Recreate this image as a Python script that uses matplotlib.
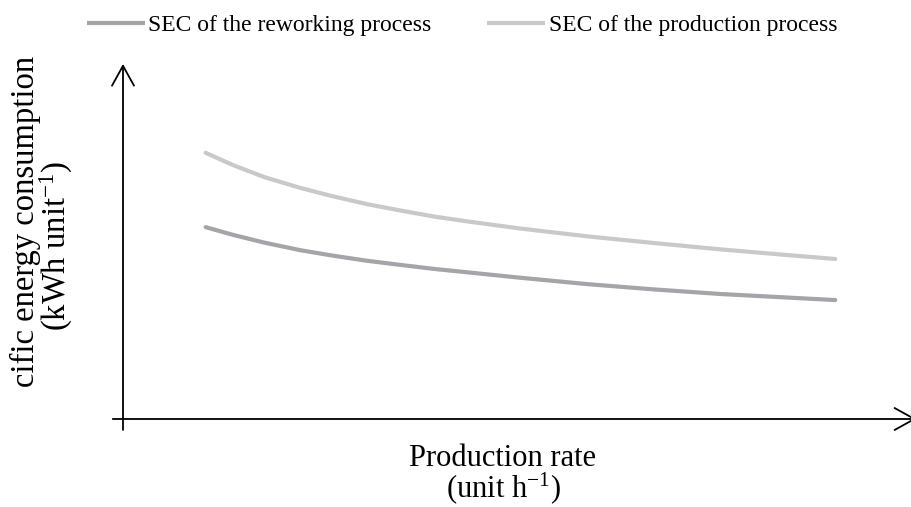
import matplotlib
matplotlib.use("Agg")
import matplotlib.pyplot as plt
from matplotlib.lines import Line2D
from matplotlib.transforms import Bbox

plt.rcParams["font.family"] = ["Liberation Serif", "DejaVu Serif"]
plt.rcParams["mathtext.fontset"] = "custom"
plt.rcParams["mathtext.rm"] = "Liberation Serif"
plt.rcParams["mathtext.it"] = "Liberation Serif:italic"

# Production rate (arbitrary units along the schematic axis)
production_rate = [1.05, 1.4, 1.8, 2.25, 2.65, 3.1, 3.5, 3.95, 4.35,
                   5.05, 5.9, 6.75, 7.6, 8.45, 9.05]
# Specific energy consumption of each process (arbitrary units)
sec_production = [7.52, 7.17, 6.83, 6.53, 6.30, 6.07, 5.90, 5.72, 5.59,
                  5.38, 5.16, 4.97, 4.79, 4.63, 4.52]
sec_reworking = [5.42, 5.20, 4.98, 4.77, 4.62, 4.47, 4.36, 4.24, 4.15,
                 3.99, 3.81, 3.66, 3.53, 3.43, 3.36]

series_labels = ["SEC of the reworking process", "SEC of the production process"]
series_colors = ["#a4a4a9", "#c9c9cb"]

W, H = 911, 507
fig = plt.figure(figsize=(W / 100, H / 100), dpi=100)

# axes placed so that the origin sits where the two arrows cross
ux, uy = 78.7, 35.4          # pixels per data unit
x0, y0 = 123, 419            # origin in pixels (from top-left)
xmin, xmax, ymin, ymax = -0.5, 10.5, -0.5, 10.5
left = (x0 + xmin * ux) / W
bottom = (H - (y0 - ymin * uy)) / H
ax = fig.add_axes([left, bottom, (xmax - xmin) * ux / W, (ymax - ymin) * uy / H])
ax.set_xlim(xmin, xmax)
ax.set_ylim(ymin, ymax)
ax.axis("off")

# axis arrows
arrow_kw = dict(arrowstyle="->,head_length=0.65,head_width=0.36",
                color="black", lw=1.3, shrinkA=0, shrinkB=0, mutation_scale=22)
ax.annotate("", xy=(10.08, 0), xytext=(-0.13, 0),
            arrowprops=arrow_kw, annotation_clip=False)
ax.annotate("", xy=(0, 10.03), xytext=(0, -0.31),
            arrowprops=arrow_kw, annotation_clip=False)

ax.plot(production_rate, sec_reworking, color=series_colors[0], lw=3.0,
        solid_capstyle="round", label=series_labels[0])
ax.plot(production_rate, sec_production, color=series_colors[1], lw=3.0,
        solid_capstyle="round", label=series_labels[1])

handles = [Line2D([], [], color=c, lw=3.0, solid_capstyle="butt") for c in series_colors]
fig.legend(handles, series_labels, loc="center", bbox_to_anchor=(462 / W, 1 - 25 / H),
           ncol=2, frameon=False, fontsize=17, handlelength=2.45, handletextpad=0.15,
           columnspacing=2.35, borderpad=0, borderaxespad=0)

# axis titles
fig.text(503 / W, 1 - 458 / H, "Production rate", ha="center", va="center", fontsize=22)
fig.text(503 / W, 1 - 488 / H, "(unit h$^{-1}$)", ha="center", va="center", fontsize=22)
ylab = fig.text(25 / W, 1 - 246 / H, "Specific energy consumption", ha="center",
                va="center", rotation=90, fontsize=23.5)
# the start of the title falls outside the printed area
ylab.set_clip_box(Bbox.from_extents(0, H - 387, W, H))
ylab.set_clip_on(True)
fig.text(56 / W, 1 - 246 / H, "(kWh unit$^{-1}$)", ha="center", va="center",
         rotation=90, fontsize=23.5)

fig.savefig("out.png", dpi=100)
